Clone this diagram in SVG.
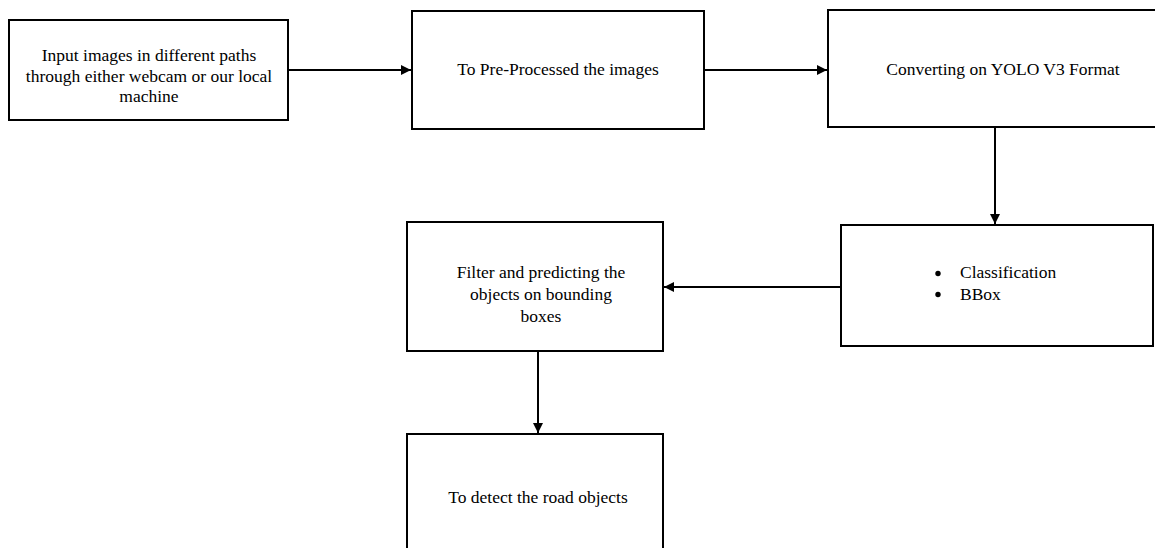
<svg xmlns="http://www.w3.org/2000/svg" width="1155" height="548" viewBox="0 0 1155 548">
<style>
.box{fill:#fff;stroke:#000;stroke-width:2}
.t{font-family:"Liberation Serif","Times New Roman",serif;font-size:17.5px;fill:#000;text-anchor:middle}
.tl{font-family:"Liberation Serif","Times New Roman",serif;font-size:17.5px;fill:#000}
.c{stroke:#000;stroke-width:2;fill:none;marker-end:url(#ah)}
</style>
<defs>
<marker id="ah" viewBox="0 0 10 10" refX="10" refY="5" markerWidth="5.5" markerHeight="5" markerUnits="strokeWidth" orient="auto">
<path d="M0,0 L10,5 L0,10 Z" fill="#000"/>
</marker>
</defs>
<rect width="1155" height="548" fill="#fff"/>
<g id="connectors">
<line class="c" x1="288" y1="70" x2="411" y2="70"/>
<line class="c" x1="704" y1="70" x2="827" y2="70"/>
<line class="c" x1="995" y1="127" x2="995" y2="224"/>
<line class="c" x1="840" y1="287" x2="664" y2="287"/>
<line class="c" x1="538" y1="351" x2="538" y2="433"/>
</g>
<g id="n1">
<rect class="box" x="9" y="20" width="279" height="100"/>
<text class="t" x="149" y="61">Input images in different paths</text>
<text class="t" x="149" y="81.5">through either webcam or our local</text>
<text class="t" x="149" y="102">machine</text>
</g>
<g id="n2">
<rect class="box" x="412" y="11" width="292" height="118"/>
<text class="t" x="558" y="75">To Pre-Processed the images</text>
</g>
<g id="n3">
<rect class="box" x="828" y="10" width="350" height="117"/>
<text class="t" x="1003" y="75">Converting on YOLO V3 Format</text>
</g>
<g id="n4">
<rect class="box" x="841" y="225" width="312" height="121"/>
<circle cx="938" cy="273.5" r="2.7" fill="#000"/>
<circle cx="938" cy="294.5" r="2.7" fill="#000"/>
<text class="tl" x="960" y="278">Classification</text>
<text class="tl" x="960" y="299.5">BBox</text>
</g>
<g id="n5">
<rect class="box" x="407" y="222" width="256" height="129"/>
<text class="t" x="541" y="278">Filter and predicting the</text>
<text class="t" x="541" y="300">objects on bounding</text>
<text class="t" x="541" y="322">boxes</text>
</g>
<g id="n6">
<rect class="box" x="407" y="434" width="256" height="130"/>
<text class="t" x="538" y="503">To detect the road objects</text>
</g>
</svg>
